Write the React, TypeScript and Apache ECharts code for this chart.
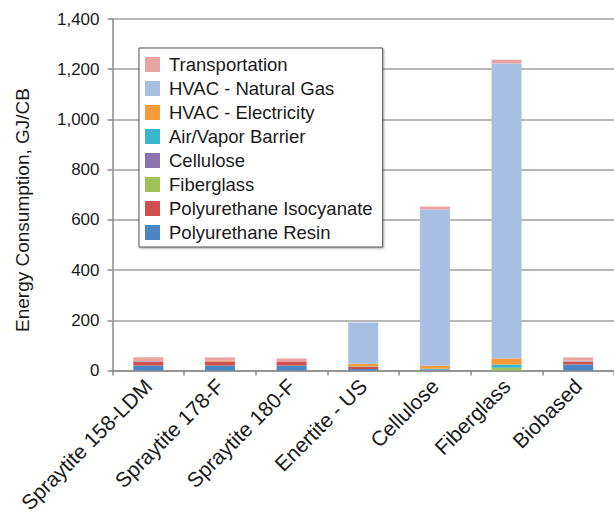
import React, { useEffect, useRef } from "react";
import * as echarts from "echarts";

const categories = [
  "Spraytite 158-LDM",
  "Spraytite 178-F",
  "Spraytite 180-F",
  "Enertite - US",
  "Cellulose",
  "Fiberglass",
  "Biobased",
];

// stacked bottom -> top
const polyResin = [20, 20, 20, 6, 0, 0, 24];
const polyIso = [16, 16, 16, 8, 0, 0, 12];
const fiberglass = [0, 0, 0, 0, 0, 11, 0];
const cellulose = [0, 0, 0, 0, 3, 0, 0];
const airVapor = [0, 0, 0, 2, 4, 13, 0];
const hvacElec = [0, 3, 0, 11, 12, 24, 0];
const hvacGas = [2, 0, 0, 164, 622, 1175, 3];
const transport = [15, 13, 12, 0, 12, 15, 13];

const yTicks = [0, 200, 400, 600, 800, 1000, 1200, 1400];
const yTitle = "Energy Consumption, GJ/CB";

const seriesDefs = [
  { name: "Polyurethane Resin", data: polyResin, color: "#4A86C6" },
  { name: "Polyurethane Isocyanate", data: polyIso, color: "#D0504D" },
  { name: "Fiberglass", data: fiberglass, color: "#9DC35A" },
  { name: "Cellulose", data: cellulose, color: "#8B72B0" },
  { name: "Air/Vapor Barrier", data: airVapor, color: "#3BB4CE" },
  { name: "HVAC - Electricity", data: hvacElec, color: "#F79A3A" },
  { name: "HVAC - Natural Gas", data: hvacGas, color: "#A7BFE3" },
  { name: "Transportation", data: transport, color: "#E8A3A2" },
];

const FONT = "'Liberation Sans', Arial, Helvetica, sans-serif";

export default function App() {
  const ref = useRef<HTMLDivElement>(null);
  useEffect(() => {
    if (!ref.current) return;
    const chart = echarts.init(ref.current, undefined, { renderer: "svg" });
    chart.setOption({
      animation: false,
      backgroundColor: "#ffffff",
      textStyle: { fontFamily: FONT },
      grid: { left: 112.5, right: -10, top: 19, bottom: 148.5, containLabel: false },
      graphic: [
        {
          type: "text",
          x: 22,
          y: 210,
          rotation: Math.PI / 2,
          style: {
            text: yTitle,
            fontSize: 19,
            fontFamily: FONT,
            fill: "#1a1a1a",
            align: "center",
            verticalAlign: "middle",
          },
        },
      ],
      legend: {
        orient: "vertical",
        left: 139,
        top: 48,
        data: seriesDefs.map((s) => s.name).reverse(),
        itemWidth: 15,
        itemHeight: 15,
        itemGap: 5,
        padding: [7, 10, 5, 6],
        borderColor: "#555555",
        borderWidth: 1,
        backgroundColor: "#ffffff",
        shadowColor: "rgba(0,0,0,0.35)",
        shadowBlur: 2,
        shadowOffsetX: 1,
        shadowOffsetY: 1,
        icon: "rect",
        textStyle: {
          fontSize: 18.5,
          lineHeight: 19,
          color: "#1a1a1a",
          fontFamily: FONT,
          padding: [0, 0, 0, 4],
        },
      },
      xAxis: {
        type: "category",
        data: categories,
        axisLine: { lineStyle: { color: "#8a8a8a", width: 1.5 } },
        axisTick: { show: true, length: 5, alignWithLabel: false, lineStyle: { color: "#8a8a8a", width: 1.5 } },
        axisLabel: {
          rotate: 45,
          fontSize: 21,
          color: "#1a1a1a",
          fontFamily: FONT,
          margin: 12,
          interval: 0,
        },
      },
      yAxis: {
        type: "value",
        min: 0,
        max: 1400,
        interval: 200,
        axisLine: { show: true, lineStyle: { color: "#8a8a8a", width: 1.5 } },
        axisTick: { show: true, length: 5, lineStyle: { color: "#8a8a8a", width: 1.5 } },
        axisLabel: {
          fontSize: 17,
          color: "#1a1a1a",
          fontFamily: FONT,
          margin: 13,
          formatter: (v: number) => (yTicks.includes(v) ? v.toLocaleString("en-US") : ""),
        },
        splitLine: { show: true, lineStyle: { color: "#b8b8b8", width: 2 } },
      },
      series: seriesDefs.map((s) => ({
        name: s.name,
        type: "bar",
        stack: "total",
        data: s.data,
        barWidth: 30,
        itemStyle: { color: s.color },
      })),
    });
    return () => chart.dispose();
  }, []);
  return (
    <div
      ref={ref}
      style={{ position: "absolute", left: 0, top: 0, width: 614, height: 519 }}
    />
  );
}
